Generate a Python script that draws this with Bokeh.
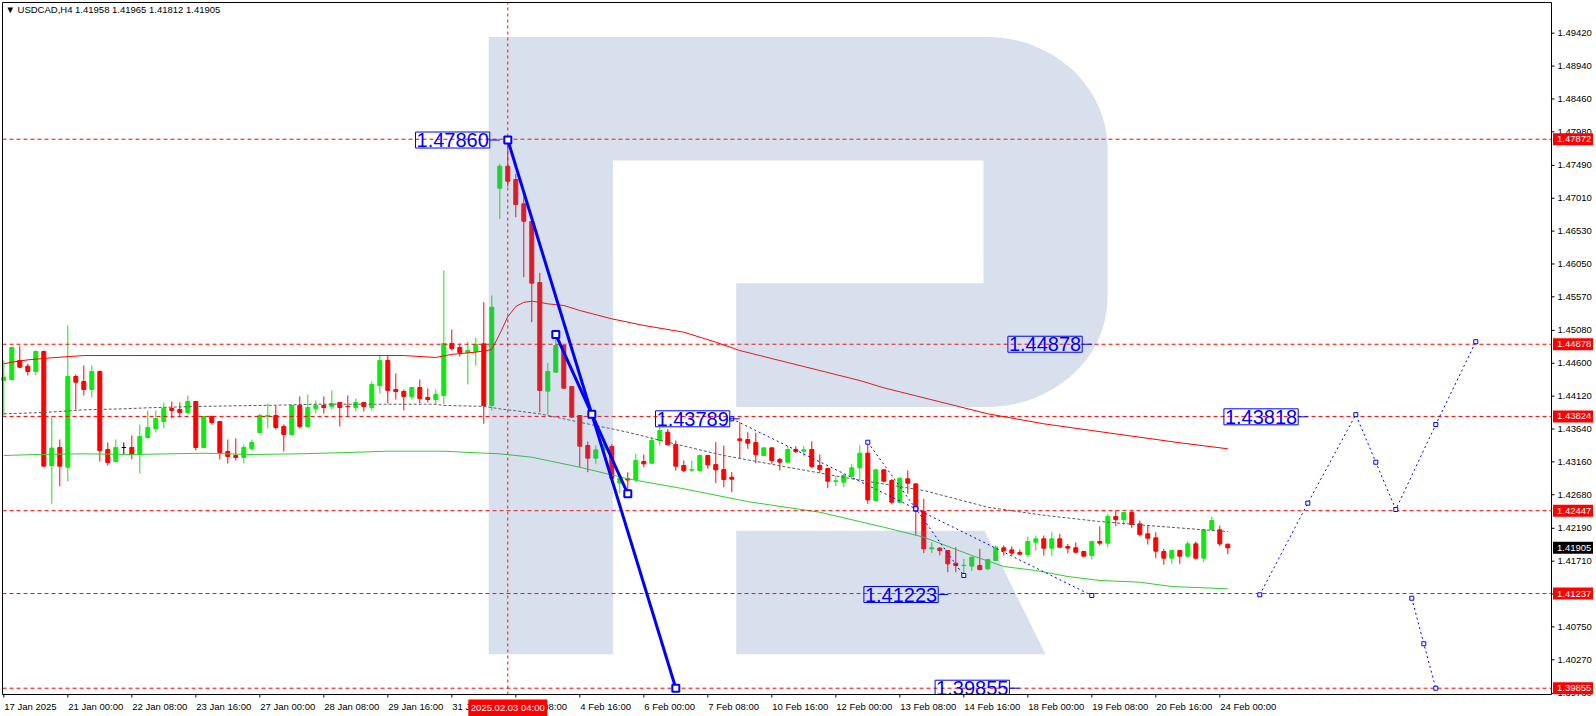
import numpy as np
from bokeh.plotting import figure
from bokeh.models import Range1d
from bokeh.core.properties import value
from bokeh.embed import file_html
from bokeh.resources import INLINE

header_text = "\u25BC USDCAD,H4  1.41958 1.41965 1.41812 1.41905"

# ---------------- H4 candles (bar index 0 = 17 Jan 2025 16:00) ----------------
opens = [1.44349, 1.44363, 1.44641, 1.44558, 1.44480, 1.44772, 1.43107, 1.43370, 1.43083, 1.44407,
         1.44334, 1.44217, 1.44480, 1.43341, 1.43166, 1.43370, 1.43370, 1.43268, 1.43516, 1.43648,
         1.43750, 1.43940, 1.43925, 1.43881, 1.44042, 1.43370, 1.43823, 1.43750, 1.43312, 1.43253,
         1.43224, 1.43356, 1.43589, 1.43823, 1.43837, 1.43677, 1.43560, 1.43984, 1.43677, 1.43940,
         1.43984, 1.43969, 1.44027, 1.43972, 1.43954, 1.44027, 1.43954, 1.44276, 1.44641, 1.44217,
         1.44188, 1.44115, 1.44246, 1.44101, 1.44071, 1.44130, 1.44889, 1.44831, 1.44758, 1.44772,
         1.44884, 1.43983, 1.47157, 1.47478, 1.47283, 1.46928, 1.46670, 1.45779, 1.44193, 1.44470,
         1.44859, 1.44261, 1.43837, 1.43399, 1.43214, 1.43336, 1.43384, 1.42850, 1.42915, 1.42902,
         1.43165, 1.43141, 1.43472, 1.43594, 1.43413, 1.43107, 1.43040, 1.43034, 1.43253, 1.43121,
         1.43048, 1.42936, 1.43496, 1.43486, 1.43443, 1.43253, 1.43365, 1.43195, 1.43156, 1.43341,
         1.43316, 1.43341, 1.43107, 1.43063, 1.42875, 1.42863, 1.42951, 1.43073, 1.43287, 1.42596,
         1.43044, 1.42888, 1.42571, 1.42912, 1.42839, 1.42435, 1.41890, 1.41900, 1.41866, 1.41681,
         1.41645, 1.41637, 1.41647, 1.41598, 1.41720, 1.41905, 1.41875, 1.41837, 1.41807, 1.41987,
         1.42036, 1.41900, 1.42036, 1.41924, 1.41905, 1.41851, 1.41793, 1.41997, 1.41973, 1.42362,
         1.42318, 1.42421, 1.42255, 1.42109, 1.42051, 1.41851, 1.41754, 1.41866, 1.41783, 1.41963,
         1.41754, 1.42172, 1.42168, 1.41958]
highs = [1.44641, 1.44840, 1.44850, 1.44592, 1.44787, 1.44787, 1.43813, 1.43487, 1.45152, 1.44436,
         1.44568, 1.44568, 1.44495, 1.43443, 1.43487, 1.43443, 1.43545, 1.43706, 1.43911, 1.43911,
         1.44027, 1.44042, 1.44027, 1.44130, 1.44050, 1.43830, 1.43837, 1.43755, 1.43487, 1.43502,
         1.43414, 1.43487, 1.43867, 1.44013, 1.43984, 1.43706, 1.43990, 1.44115, 1.44144, 1.44057,
         1.44115, 1.44203, 1.44032, 1.44130, 1.44086, 1.44032, 1.44334, 1.44714, 1.44714, 1.44451,
         1.44217, 1.44250, 1.44363, 1.44232, 1.44217, 1.45955, 1.45093, 1.44889, 1.44918, 1.44977,
         1.45492, 1.45590, 1.47512, 1.47900, 1.47366, 1.47035, 1.46675, 1.45921, 1.44606, 1.45039,
         1.44870, 1.44270, 1.43840, 1.43457, 1.43399, 1.43480, 1.43420, 1.42930, 1.43009, 1.43277,
         1.43267, 1.43521, 1.43667, 1.43642, 1.43472, 1.43180, 1.43180, 1.43267, 1.43260, 1.43448,
         1.43399, 1.43010, 1.43740, 1.43594, 1.43584, 1.43370, 1.43370, 1.43219, 1.43389, 1.43389,
         1.43389, 1.43462, 1.43267, 1.43073, 1.42951, 1.42985, 1.43131, 1.43399, 1.43457, 1.43058,
         1.43058, 1.42912, 1.42925, 1.43034, 1.42845, 1.42620, 1.41987, 1.41914, 1.41870, 1.41914,
         1.41744, 1.41770, 1.41890, 1.41740, 1.41939, 1.41939, 1.41924, 1.41880, 1.42065, 1.42085,
         1.42085, 1.42133, 1.42109, 1.41963, 1.41983, 1.41856, 1.42000, 1.42216, 1.42401, 1.42450,
         1.42426, 1.42450, 1.42304, 1.42231, 1.42133, 1.41890, 1.41875, 1.41870, 1.42002, 1.41997,
         1.42182, 1.42362, 1.42231, 1.41965]
lows = [1.43837, 1.44355, 1.44529, 1.44422, 1.44422, 1.43090, 1.42548, 1.42805, 1.42874, 1.43925,
        1.44130, 1.44101, 1.43166, 1.43107, 1.43151, 1.43268, 1.43195, 1.42990, 1.43502, 1.43589,
        1.43648, 1.43794, 1.43823, 1.43852, 1.43326, 1.43365, 1.43706, 1.43195, 1.43137, 1.43180,
        1.43137, 1.43326, 1.43585, 1.43648, 1.43633, 1.43312, 1.43545, 1.43648, 1.43662, 1.43867,
        1.43867, 1.43925, 1.43677, 1.43823, 1.43896, 1.43896, 1.43911, 1.44159, 1.44013, 1.44071,
        1.43911, 1.44071, 1.44013, 1.44027, 1.43998, 1.43998, 1.44787, 1.44699, 1.44290, 1.44568,
        1.43716, 1.43910, 1.46709, 1.47180, 1.46733, 1.45857, 1.45200, 1.43886, 1.43852, 1.44465,
        1.44230, 1.43805, 1.43083, 1.43010, 1.43131, 1.43290, 1.42850, 1.42700, 1.42742, 1.42863,
        1.43083, 1.43131, 1.43399, 1.43399, 1.43034, 1.43010, 1.43010, 1.43030, 1.43058, 1.42849,
        1.42790, 1.42717, 1.43214, 1.43350, 1.43141, 1.43248, 1.43131, 1.43034, 1.43150, 1.43287,
        1.43238, 1.43073, 1.43000, 1.42776, 1.42805, 1.42790, 1.42912, 1.42888, 1.42547, 1.42590,
        1.42864, 1.42547, 1.42557, 1.42693, 1.42085, 1.41827, 1.41827, 1.41793, 1.41549, 1.41549,
        1.41525, 1.41564, 1.41574, 1.41583, 1.41715, 1.41793, 1.41802, 1.41802, 1.41768, 1.41866,
        1.41793, 1.41783, 1.41905, 1.41827, 1.41827, 1.41780, 1.41734, 1.41939, 1.41914, 1.42221,
        1.42241, 1.42192, 1.42075, 1.41953, 1.41754, 1.41656, 1.41671, 1.41671, 1.41754, 1.41734,
        1.41695, 1.42158, 1.41929, 1.41812]
closes = [1.44397, 1.44831, 1.44543, 1.44480, 1.44772, 1.43098, 1.43361, 1.43098, 1.44407, 1.44324,
          1.44217, 1.44480, 1.43326, 1.43151, 1.43370, 1.43370, 1.43268, 1.43531, 1.43662, 1.43794,
          1.43940, 1.43911, 1.43881, 1.44042, 1.43370, 1.43823, 1.43735, 1.43297, 1.43239, 1.43224,
          1.43370, 1.43443, 1.43837, 1.43837, 1.43662, 1.43560, 1.43984, 1.43677, 1.43954, 1.43984,
          1.43954, 1.44013, 1.43954, 1.43966, 1.44027, 1.43969, 1.44290, 1.44641, 1.44203, 1.44188,
          1.44115, 1.44246, 1.44086, 1.44071, 1.44144, 1.44889, 1.44816, 1.44758, 1.44787, 1.44874,
          1.43983, 1.45419, 1.47478, 1.47259, 1.46918, 1.46675, 1.45770, 1.44202, 1.44480, 1.44859,
          1.44236, 1.43813, 1.43389, 1.43214, 1.43336, 1.43420, 1.42920, 1.42925, 1.42895, 1.43180,
          1.43131, 1.43472, 1.43618, 1.43409, 1.43097, 1.43034, 1.43048, 1.43253, 1.43117, 1.43044,
          1.42902, 1.42907, 1.43472, 1.43433, 1.43263, 1.43365, 1.43180, 1.43156, 1.43341, 1.43311,
          1.43336, 1.43092, 1.43048, 1.42878, 1.42883, 1.42961, 1.43073, 1.43287, 1.42605, 1.43044,
          1.42878, 1.42571, 1.42922, 1.42849, 1.42440, 1.41890, 1.41905, 1.41866, 1.41671, 1.41647,
          1.41650, 1.41768, 1.41588, 1.41734, 1.41914, 1.41866, 1.41827, 1.41812, 1.41997, 1.42036,
          1.41900, 1.42036, 1.41914, 1.41900, 1.41841, 1.41783, 1.41997, 1.41973, 1.42362, 1.42318,
          1.42421, 1.42245, 1.42099, 1.42046, 1.41856, 1.41754, 1.41866, 1.41783, 1.41963, 1.41754,
          1.42168, 1.42304, 1.41963, 1.41905]

# ---------------- moving averages (bar index, value) ----------------
red_ma_bars = [0, 1, 3, 6, 10, 50, 54, 56, 59, 61, 62, 63, 64, 65, 66, 67, 68, 70, 72, 76,
               80, 85, 89, 92, 107, 110, 123, 130, 139, 147, 153]
red_ma_vals = [1.44592, 1.44615, 1.44650, 1.44680, 1.44713, 1.44713, 1.44685, 1.44730, 1.44762,
               1.44800, 1.45030, 1.45280, 1.45430, 1.45490, 1.45506, 1.45490, 1.45468, 1.45444,
               1.45371, 1.45249, 1.45152, 1.45054, 1.44908, 1.44786, 1.44348, 1.44242, 1.43862,
               1.43716, 1.43569, 1.43439, 1.43351]
gray_ma_bars = [0, 5, 10, 15, 18, 24, 34, 39, 54, 55, 60, 62, 67, 72, 78, 83, 90, 98, 106, 115,
                123, 130, 137, 143, 150, 153]
gray_ma_vals = [1.43862, 1.43881, 1.43920, 1.43935, 1.43950, 1.43969, 1.43988, 1.44002, 1.44002,
                1.43983, 1.43971, 1.43935, 1.43862, 1.43739, 1.43593, 1.43447, 1.43253, 1.43082,
                1.42913, 1.42742, 1.42498, 1.42380, 1.42289, 1.42231, 1.42168, 1.42143]
green_ma_bars = [0, 4, 10, 16, 25, 31, 37, 43, 48, 55, 59, 62, 66, 72, 78, 85, 93, 102, 110, 115,
                 121, 125, 129, 133, 137, 142, 146, 153]
green_ma_vals = [1.43253, 1.43268, 1.43278, 1.43268, 1.43287, 1.43268, 1.43278, 1.43297, 1.43316,
                 1.43316, 1.43293, 1.43278, 1.43228, 1.43082, 1.42913, 1.42767, 1.42580, 1.42425,
                 1.42206, 1.42060, 1.41793, 1.41632, 1.41574, 1.41486, 1.41428, 1.41403, 1.41340,
                 1.41307]

# ---------------- axes ----------------
x_tick_bars = [0, 8, 16, 24, 32, 40, 48, 56, 64, 72, 80, 88, 96, 104, 112, 120, 128, 136, 144, 152]
x_tick_labels = ["17 Jan 2025", "21 Jan 00:00", "22 Jan 08:00", "23 Jan 16:00", "27 Jan 00:00",
                 "28 Jan 08:00", "29 Jan 16:00", "31 Jan 00:00", "3 Feb 08:00", "4 Feb 16:00",
                 "6 Feb 00:00", "7 Feb 08:00", "10 Feb 16:00", "12 Feb 00:00", "13 Feb 08:00",
                 "14 Feb 16:00", "18 Feb 00:00", "19 Feb 08:00", "20 Feb 16:00", "24 Feb 00:00"]
y_tick_vals = [1.49420, 1.48940, 1.48460, 1.47980, 1.47490, 1.47010, 1.46530, 1.46050, 1.45570,
               1.45080, 1.44600, 1.44120, 1.43640, 1.43160, 1.42680, 1.42190, 1.41710, 1.41230,
               1.40750, 1.40270, 1.39780]
y_tick_labels = ["1.49420", "1.48940", "1.48460", "1.47980", "1.47490", "1.47010", "1.46530",
                 "1.46050", "1.45570", "1.45080", "1.44600", "1.44120", "1.43640", "1.43160",
                 "1.42680", "1.42190", "1.41710", "1.41230", "1.40750", "1.40270", "1.39780"]

# ---------------- levels and annotations ----------------
level_vals = [1.47872, 1.44878, 1.43824, 1.42447, 1.41237, 1.39855]
level_labels = ["1.47872", "1.44878", "1.43824", "1.42447", "1.41237", "1.39855"]
last_price = 1.41905
last_label = "1.41905"
marked_bar = 63
marked_label = "2025.02.03 04:00"

wave_a_bars = [63, 84]
wave_a_vals = [1.47860, 1.39855]
wave_b_bars = [69, 73.5, 78]
wave_b_vals = [1.45020, 1.43857, 1.42694]
dot1_bars = [91, 114, 136]
dot1_vals = [1.43789, 1.42475, 1.41209]
dot2_bars = [108, 114, 120]
dot2_vals = [1.43447, 1.42475, 1.41501]
fc_bars = [157, 163, 169, 171.5, 174, 179, 184]
fc_vals = [1.41219, 1.42557, 1.43850, 1.43155, 1.42465, 1.43706, 1.44915]
alt_bars = [176, 177.5, 179]
alt_vals = [1.41169, 1.40504, 1.39855]

note_texts = ["1.47860", "1.43789", "1.44878", "1.41223", "1.39855", "1.43818"]
note_vals = [1.47860, 1.43789, 1.44878, 1.41223, 1.39855, 1.43818]
note_bars = [60.75, 90.75, 134.8, 116.8, 125.7, 161.8]

# watermark logo "R" outline (bar index, price)
logo_left, logo_stem_r, logo_mid_l, logo_in_r, logo_bowl_x = 60.61, 76.14, 91.55, 122.46, 122.84
logo_rx = 15.125
logo_top, logo_arc1_y, logo_arc2_y, logo_bowl_bot = 1.49366, 1.47736, 1.45560, 1.43961
logo_in_top, logo_in_bot, logo_leg_top, logo_bottom = 1.47561, 1.45768, 1.42155, 1.40350
logo_leg_r_top, logo_leg_r_bot = 122.59, 130.21

# ---------------- pixel layout (MT4 window) ----------------
W, H = 1596, 716
PX_PER_BAR = 8.0        # bar spacing
BAR0_PX = 3.3           # x pixel of bar 0
PX_PER_PRICE = 6848.0   # vertical scale
REF_PRICE, REF_PX = 1.49420, 32.7
CH_L, CH_R, CH_T, CH_B = 2, 1551, 2, 694   # chart area in pixels


def bx(px):
    return (px - BAR0_PX) / PX_PER_BAR


def py(px):
    return REF_PRICE - (px - REF_PX) / PX_PER_PRICE


def dbx(n):
    return n / PX_PER_BAR


def dpy(n):
    return n / PX_PER_PRICE


BX0, BX1 = bx(CH_L), bx(CH_R)
PY_TOP, PY_BOT = py(CH_T), py(CH_B)

FONT = "Liberation Sans"
SMALL = "9.5px"

p = figure(width=W, height=H, x_range=Range1d(bx(0), bx(W)), y_range=Range1d(py(H), py(0)),
           output_backend="svg", toolbar_location=None, x_axis_location=None,
           y_axis_location=None, min_border=0)
p.title.visible = False
p.grid.visible = False
p.outline_line_color = None
p.background_fill_color = "white"
p.border_fill_color = "white"

# candles
bars = list(range(len(opens)))
bull, bear, doji = "#10E810", "#FF0000", "#000000"
colors = [bull if c > o else (bear if c < o else doji) for o, c in zip(opens, closes)]
tops = [max(o, c) for o, c in zip(opens, closes)]
bots = [min(o, c) for o, c in zip(opens, closes)]
p.segment(x0=bars, y0=lows, x1=bars, y1=highs, line_color=colors, line_width=1)
p.vbar(x=bars, width=0.5, top=tops, bottom=bots, fill_color=colors, line_color=colors, line_width=1)

# indicators
p.line(red_ma_bars, red_ma_vals, line_color="#FF0000", line_width=1)
p.line(gray_ma_bars, gray_ma_vals, line_color="#5A5A5A", line_width=1, line_dash="3 2")
p.line(green_ma_bars, green_ma_vals, line_color="#32CD32", line_width=1)

# horizontal levels and vertical marker line
p.segment(x0=[BX0] * len(level_vals), x1=[BX1] * len(level_vals), y0=level_vals, y1=level_vals,
          line_color="#FF0000", line_width=1, line_dash="4 3")
p.segment(x0=[marked_bar], x1=[marked_bar], y0=[PY_BOT], y1=[PY_TOP], line_color="#FF0000",
          line_width=1, line_dash="3 3")

# watermark
t1 = np.linspace(np.pi / 2, 0, 24)
t2 = np.linspace(0, -np.pi / 2, 24)
ry1 = logo_top - logo_arc1_y
ry2 = logo_arc2_y - logo_bowl_bot
body_x = ([logo_left, logo_bowl_x] + list(logo_bowl_x + logo_rx * np.cos(t1))
          + list(logo_bowl_x + logo_rx * np.cos(t2))
          + [logo_bowl_x, logo_mid_l, logo_mid_l, logo_in_r, logo_in_r, logo_stem_r, logo_stem_r, logo_left])
body_y = ([logo_top, logo_top] + list(logo_arc1_y + ry1 * np.sin(t1))
          + list(logo_arc2_y + ry2 * np.sin(t2))
          + [logo_bowl_bot, logo_bowl_bot, logo_in_bot, logo_in_bot, logo_in_top, logo_in_top,
             logo_bottom, logo_bottom])
leg_x = [logo_mid_l, logo_leg_r_top, logo_leg_r_bot, logo_mid_l]
leg_y = [logo_leg_top, logo_leg_top, logo_bottom, logo_bottom]
p.patches([body_x, leg_x], [body_y, leg_y], fill_color="#5A7DB4", fill_alpha=0.24, line_color=None)

# blue drawings
BLUE = "#0000FF"
p.line(wave_a_bars, wave_a_vals, line_color=BLUE, line_width=3)
p.line(wave_b_bars, wave_b_vals, line_color=BLUE, line_width=3)
p.scatter(wave_a_bars + wave_b_bars, wave_a_vals + wave_b_vals, marker="square", size=7,
          line_color=BLUE, line_width=2, fill_color="white")
for xs, ys in ((dot1_bars, dot1_vals), (dot2_bars, dot2_vals), (fc_bars, fc_vals), (alt_bars, alt_vals)):
    p.line(xs, ys, line_color=BLUE, line_width=1, line_dash="2 3")
    p.scatter(xs, ys, marker="square", size=4, line_color=BLUE, line_width=1, fill_color="white")

p.segment(x0=note_bars, y0=note_vals, x1=[b + dbx(10) for b in note_bars], y1=note_vals,
          line_color=BLUE, line_width=1)
p.text(x=note_bars, y=note_vals, text=note_texts, text_align="right", text_baseline="middle",
       text_color=BLUE, text_font=value(FONT), text_font_size="20px",
       border_line_color=BLUE, border_line_width=1, padding=1)

# clip: blank out the scale areas
p.quad(left=[BX1], right=[bx(W)], bottom=[py(H)], top=[py(0)], fill_color="white", line_color=None)
p.quad(left=[bx(0)], right=[BX1], bottom=[py(H)], top=[PY_BOT], fill_color="white", line_color=None)

# chart border
p.segment(x0=[BX0, BX0, BX1, BX0], y0=[PY_BOT, PY_TOP, PY_BOT, PY_BOT],
          x1=[BX0, BX1, BX1, BX1], y1=[PY_TOP, PY_TOP, PY_TOP, PY_BOT],
          line_color="black", line_width=1)

# price scale (right)
p.segment(x0=[BX1] * len(y_tick_vals), x1=[BX1 + dbx(3)] * len(y_tick_vals),
          y0=y_tick_vals, y1=y_tick_vals, line_color="black", line_width=1)
p.text(x=[BX1 + dbx(6)] * len(y_tick_vals), y=y_tick_vals, text=y_tick_labels,
       text_align="left", text_baseline="middle", text_font=value(FONT),
       text_font_size=SMALL, text_color="black")

box_vals = level_vals + [last_price]
box_texts = level_labels + [last_label]
box_colors = ["#FF0000"] * len(level_vals) + ["#000000"]
p.quad(left=[BX1 + dbx(1.5)] * len(box_vals), right=[BX1 + dbx(41.5)] * len(box_vals),
       bottom=[v - dpy(6) for v in box_vals], top=[v + dpy(6) for v in box_vals],
       fill_color=box_colors, line_color=None)
p.text(x=[BX1 + dbx(5.5)] * len(box_vals), y=box_vals, text=box_texts, text_align="left",
       text_baseline="middle", text_font=value(FONT), text_font_size=SMALL, text_color="white")

# time scale (bottom)
p.segment(x0=x_tick_bars, x1=x_tick_bars, y0=[PY_BOT] * len(x_tick_bars),
          y1=[PY_BOT - dpy(3)] * len(x_tick_bars), line_color="black", line_width=1)
p.text(x=[b + dbx(0.5) for b in x_tick_bars], y=[py(706)] * len(x_tick_bars),
       text=x_tick_labels, text_align="left", text_baseline="middle", text_font=value(FONT),
       text_font_size=SMALL, text_color="black")
p.quad(left=[marked_bar - dbx(39.5)], right=[marked_bar + dbx(39.5)],
       bottom=[py(H)], top=[py(699)], fill_color="#FF0000", line_color=None)
p.text(x=[marked_bar], y=[py(707)], text=[marked_label], text_align="center",
       text_baseline="middle", text_font=value(FONT), text_font_size=SMALL, text_color="white")

# header
p.text(x=[bx(5)], y=[py(9)], text=[header_text], text_align="left",
       text_baseline="middle", text_font=value(FONT), text_font_size=SMALL, text_color="black")

open("out.html", "w").write(file_html(p, INLINE))
